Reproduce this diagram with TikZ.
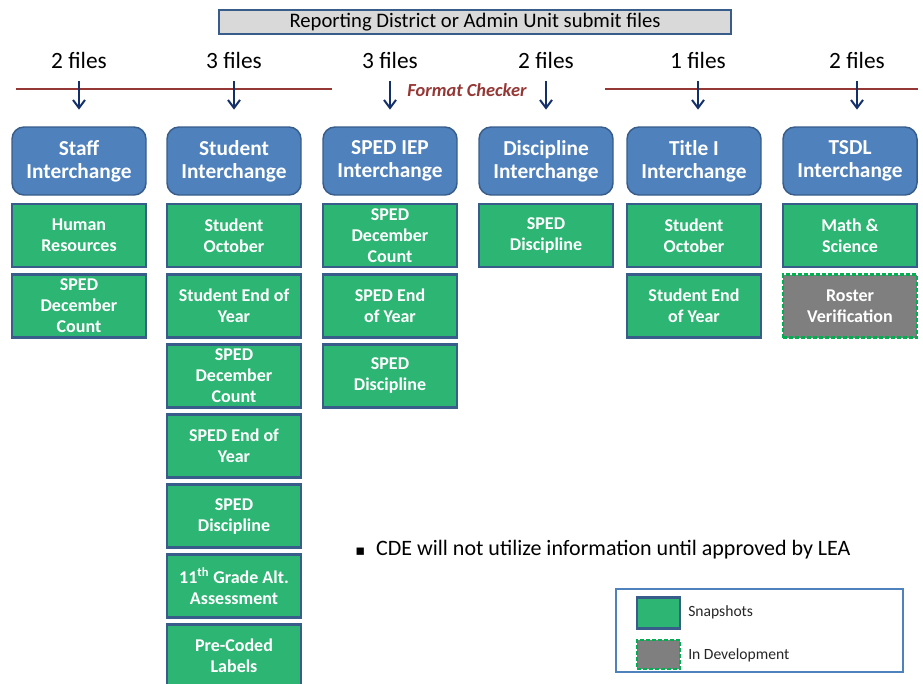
\documentclass[tikz,border=0pt]{standalone}
\usepackage{fontspec}
\setmainfont{Carlito}
\newfontfamily\symfont{DejaVu Sans}
\usetikzlibrary{arrows.meta}
\definecolor{hdrblue}{HTML}{4F81BD}
\definecolor{edgeblue}{HTML}{385D8A}
\definecolor{snapgreen}{HTML}{2DB573}
\definecolor{devgreen}{HTML}{00B050}
\definecolor{devgray}{HTML}{7F7F7F}
\definecolor{checkred}{HTML}{953735}
\definecolor{arrownavy}{HTML}{13306A}
\definecolor{titlegray}{HTML}{D9D9D9}

\begin{document}
\begin{tikzpicture}
  [x=0.75pt,y=-0.75pt,
   hdr/.style={rectangle,rounded corners=9pt,draw=edgeblue,line width=1.1pt,fill=hdrblue,text=white,
     font=\bfseries\fontsize{16}{17.5}\selectfont,align=center,
     minimum width=100.5pt,minimum height=51pt,inner sep=1pt},
   snap/.style={rectangle,draw=edgeblue,line width=1.8pt,fill=snapgreen,text=white,
     font=\bfseries\fontsize{13.5}{15.75}\selectfont,align=center,
     minimum width=100.5pt,minimum height=47.25pt,inner sep=1pt},
   dev/.style={snap,draw=devgreen,dash pattern=on 3pt off 1.5pt,fill=devgray},
   files/.style={anchor=base,inner sep=0pt,font=\fontsize{17.5}{19}\selectfont},
   arr/.style={draw=arrownavy,line width=1.5pt,-{Straight Barb[length=6pt,width=9pt]},
     shorten <=9.5pt,shorten >=12.5pt}]
  \useasboundingbox (0,0) rectangle (923,683);

  \node[rectangle,draw=edgeblue,line width=1.5pt,fill=titlegray,minimum width=384pt,minimum height=18pt,
    inner sep=0pt,font=\fontsize{15.5}{17}\selectfont] (title) at (475,22)
    {Reporting District or Admin Unit submit files};

  \node[files] (f1) at (79,68)  {2 files};
  \node[files] (f2) at (234,68) {3 files};
  \node[files] (f3) at (390,68) {3 files};
  \node[files] (f4) at (546,68) {2 files};
  \node[files] (f5) at (698,68) {1 files};
  \node[files] (f6) at (857,68) {2 files};

  \draw[checkred,line width=1pt] (16,89) -- (332,89);
  \draw[checkred,line width=1pt] (605,89) -- (918,89);
  \node[text=checkred,font=\bfseries\itshape\fontsize{13.8}{15}\selectfont] (chk) at (467,90) {Format Checker};

  \node[hdr] (h1) at (79,161)  {Staff\\Interchange};
  \node[hdr] (h2) at (234,161) {Student\\Interchange};
  \node[hdr] (h3) at (390,161) {SPED IEP\\Interchange};
  \node[hdr] (h4) at (546,161) {Discipline\\Interchange};
  \node[hdr] (h5) at (694,161) {Title I\\Interchange};
  \node[hdr] (h6) at (850,161) {TSDL\\Interchange};

  \foreach \from/\to in {f1/h1,f2/h2,f3/h3,f4/h4,f5/h5,f6/h6}
    \draw[arr] (\from.south) -- (\from.south |- \to.north);

  \node[snap] (s11) at (79,235.5) {Human\\Resources};
  \node[snap] (s12) at (79,306)   {SPED\\December\\Count};

  \node[snap] (s21) at (234,235.5) {Student\\October};
  \node[snap] (s22) at (234,306)   {Student End of\\Year};
  \node[snap] (s23) at (234,376)   {SPED\\December\\Count};
  \node[snap] (s24) at (234,446)   {SPED End of\\Year};
  \node[snap] (s25) at (234,516)   {SPED\\Discipline};
  \node[snap] (s26) at (234,586)   {11\textsuperscript{th} Grade Alt.\\Assessment};
  \node[snap] (s27) at (234,656)   {Pre-Coded\\Labels};

  \node[snap] (s31) at (390,235.5) {SPED\\December\\Count};
  \node[snap] (s32) at (390,306)   {SPED End\\of Year};
  \node[snap] (s33) at (390,376)   {SPED\\Discipline};

  \node[snap] (s41) at (546,235.5) {SPED\\Discipline};

  \node[snap] (s51) at (694,235.5) {Student\\October};
  \node[snap] (s52) at (694,306)   {Student End\\of Year};

  \node[snap] (s61) at (850,235.5) {Math \&\\Science};
  \node[dev]  (s62) at (850,306)   {Roster\\Verification};

  \node[anchor=west,inner sep=0pt,font=\fontsize{16.5}{18}\selectfont] (note) at (355,550)
    {{\symfont\fontsize{11}{12}\selectfont ▪}\enspace CDE will not utilize information until approved by LEA};

  \node[rectangle,draw=hdrblue,line width=0.8pt,minimum width=215.25pt,minimum height=62.25pt] (lg) at (759.5,630.5) {};
  \node[snap,minimum width=32.25pt,minimum height=23.25pt] (lgsnap) at (658.5,613) {};
  \node[dev,minimum width=32.25pt,minimum height=21.75pt] (lgdev) at (658.5,654.5) {};
  \node[anchor=west,inner sep=0pt,text=black!85,font=\fontsize{11.7}{13}\selectfont] (lgt1) at (688,612) {Snapshots};
  \node[anchor=west,inner sep=0pt,text=black!85,font=\fontsize{11.7}{13}\selectfont] (lgt2) at (688,655) {In Development};
\end{tikzpicture}
\end{document}
